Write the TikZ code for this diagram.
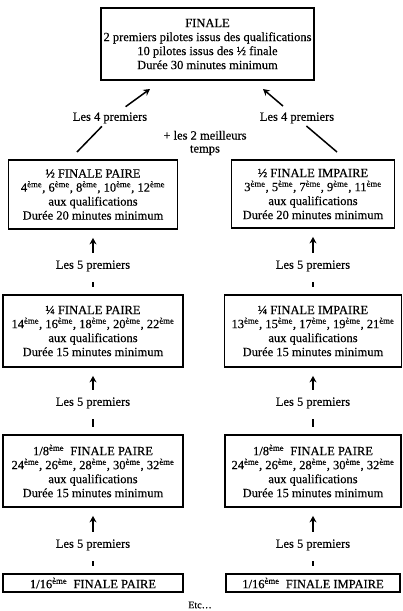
\documentclass[tikz,border=0pt]{standalone}
\usepackage{fontspec}
\setmainfont{Liberation Serif}[FakeBold=0.35]
\usetikzlibrary{arrows.meta}

\newcommand{\eme}[1]{#1\textsuperscript{ème}}

\begin{document}
\begin{tikzpicture}[x=1pt, y=-1pt,
    caja/.style={draw, line width=1.8pt, align=center, inner sep=0pt,
      font=\fontsize{12.5}{14}\selectfont},
    etiq/.style={inner sep=0pt, text height=8pt, text depth=2.5pt,
      font=\fontsize{12.5}{14}\selectfont},
    flecha/.style={-{Stealth[length=6.5pt,width=7pt]}, line width=1.5pt},
    barra/.style={line width=1.5pt}]
    \useasboundingbox (0,0) rectangle (402,611);

    % Finale
    \node[caja, minimum width=213pt, minimum height=72pt] (fin) at (207.5,44)
        {FINALE\\2 premiers pilotes issus des qualifications\\10 pilotes issus des ½ finale\\Durée 30 minutes minimum};

    % Demi-finales
    \node[caja, minimum width=169pt, minimum height=69pt] (dp) at (93,194.5)
        {½ FINALE PAIRE\\\eme{4}, \eme{6}, \eme{8}, \eme{10}, \eme{12}\\aux qualifications\\Durée 20 minutes minimum};
    \node[caja, minimum width=163pt, minimum height=68pt] (di) at (313,194)
        {½ FINALE IMPAIRE\\\eme{3}, \eme{5}, \eme{7}, \eme{9}, \eme{11}\\aux qualifications\\Durée 20 minutes minimum};

    % Cuartos
    \node[caja, minimum width=180pt, minimum height=72pt] (qp) at (93,331)
        {¼ FINALE PAIRE\\\eme{14}, \eme{16}, \eme{18}, \eme{20}, \eme{22}\\aux qualifications\\Durée 15 minutes minimum};
    \node[caja, minimum width=177pt, minimum height=72pt] (qi) at (313,331)
        {¼ FINALE IMPAIRE\\\eme{13}, \eme{15}, \eme{17}, \eme{19}, \eme{21}\\aux qualifications\\Durée 15 minutes minimum};

    % Octavos
    \node[caja, minimum width=180pt, minimum height=72pt] (hp) at (93,471)
        {\eme{1/8}~ FINALE PAIRE\\\eme{24}, \eme{26}, \eme{28}, \eme{30}, \eme{32}\\aux qualifications\\Durée 15 minutes minimum};
    \node[caja, minimum width=176pt, minimum height=72pt] (hi) at (313,471)
        {\eme{1/8}~ FINALE PAIRE\\\eme{24}, \eme{26}, \eme{28}, \eme{30}, \eme{32}\\aux qualifications\\Durée 15 minutes minimum};

    % Dieciseisavos
    \node[caja, minimum width=180pt, minimum height=18pt] (sp) at (93,583)
        {\eme{1/16}~ FINALE PAIRE};
    \node[caja, minimum width=174pt, minimum height=18pt] (si) at (313,583)
        {\eme{1/16}~ FINALE IMPAIRE};

    % Etiquetas
    \node[etiq] (l4p) at (110,118) {Les 4 premiers};
    \node[etiq] (l4i) at (297,118) {Les 4 premiers};
    \node[align=center, inner sep=0pt, font=\fontsize{12.5}{13}\selectfont] (best) at (205,143)
        {+ les 2 meilleurs\\temps};
    \node[etiq] (l5a) at (93,266) {Les 5 premiers};
    \node[etiq] (l5b) at (313,266) {Les 5 premiers};
    \node[etiq] (l5c) at (93,403) {Les 5 premiers};
    \node[etiq] (l5d) at (313,403) {Les 5 premiers};
    \node[etiq] (l5e) at (93,545) {Les 5 premiers};
    \node[etiq] (l5f) at (313,545) {Les 5 premiers};
    \node[font=\fontsize{10}{11}\selectfont, inner sep=0pt] (etc) at (200,605) {Etc…};

    % Hacia la finale
    \coordinate (pA) at (77,152);
    \coordinate (pB) at (150,89);
    \coordinate (pC) at (337,152);
    \coordinate (pD) at (263,89);
    \draw[barra, shorten >=4pt] (pA) -- (l4p);
    \draw[flecha, shorten <=10pt] (l4p) -- (pB);
    \draw[barra, shorten >=4pt] (pC) -- (l4i);
    \draw[flecha, shorten <=10pt] (l4i) -- (pD);

    % Flechas verticales
    \draw[flecha, shorten <=8pt, shorten >=8pt] (l5a) -- (dp);
    \draw[barra, shorten <=11pt, shorten >=7pt] (l5a) -- (qp);
    \draw[flecha, shorten <=8pt, shorten >=8pt] (l5b) -- (di);
    \draw[barra, shorten <=11pt, shorten >=7pt] (l5b) -- (qi);
    \draw[flecha, shorten <=8pt, shorten >=8pt] (l5c) -- (qp);
    \draw[barra, shorten <=11pt, shorten >=7pt] (l5c) -- (hp);
    \draw[flecha, shorten <=8pt, shorten >=8pt] (l5d) -- (qi);
    \draw[barra, shorten <=11pt, shorten >=7pt] (l5d) -- (hi);
    \draw[flecha, shorten <=8pt, shorten >=8pt] (l5e) -- (hp);
    \draw[barra, shorten <=11pt, shorten >=7pt] (l5e) -- (sp);
    \draw[flecha, shorten <=8pt, shorten >=8pt] (l5f) -- (hi);
    \draw[barra, shorten <=11pt, shorten >=7pt] (l5f) -- (si);
\end{tikzpicture}
\end{document}
